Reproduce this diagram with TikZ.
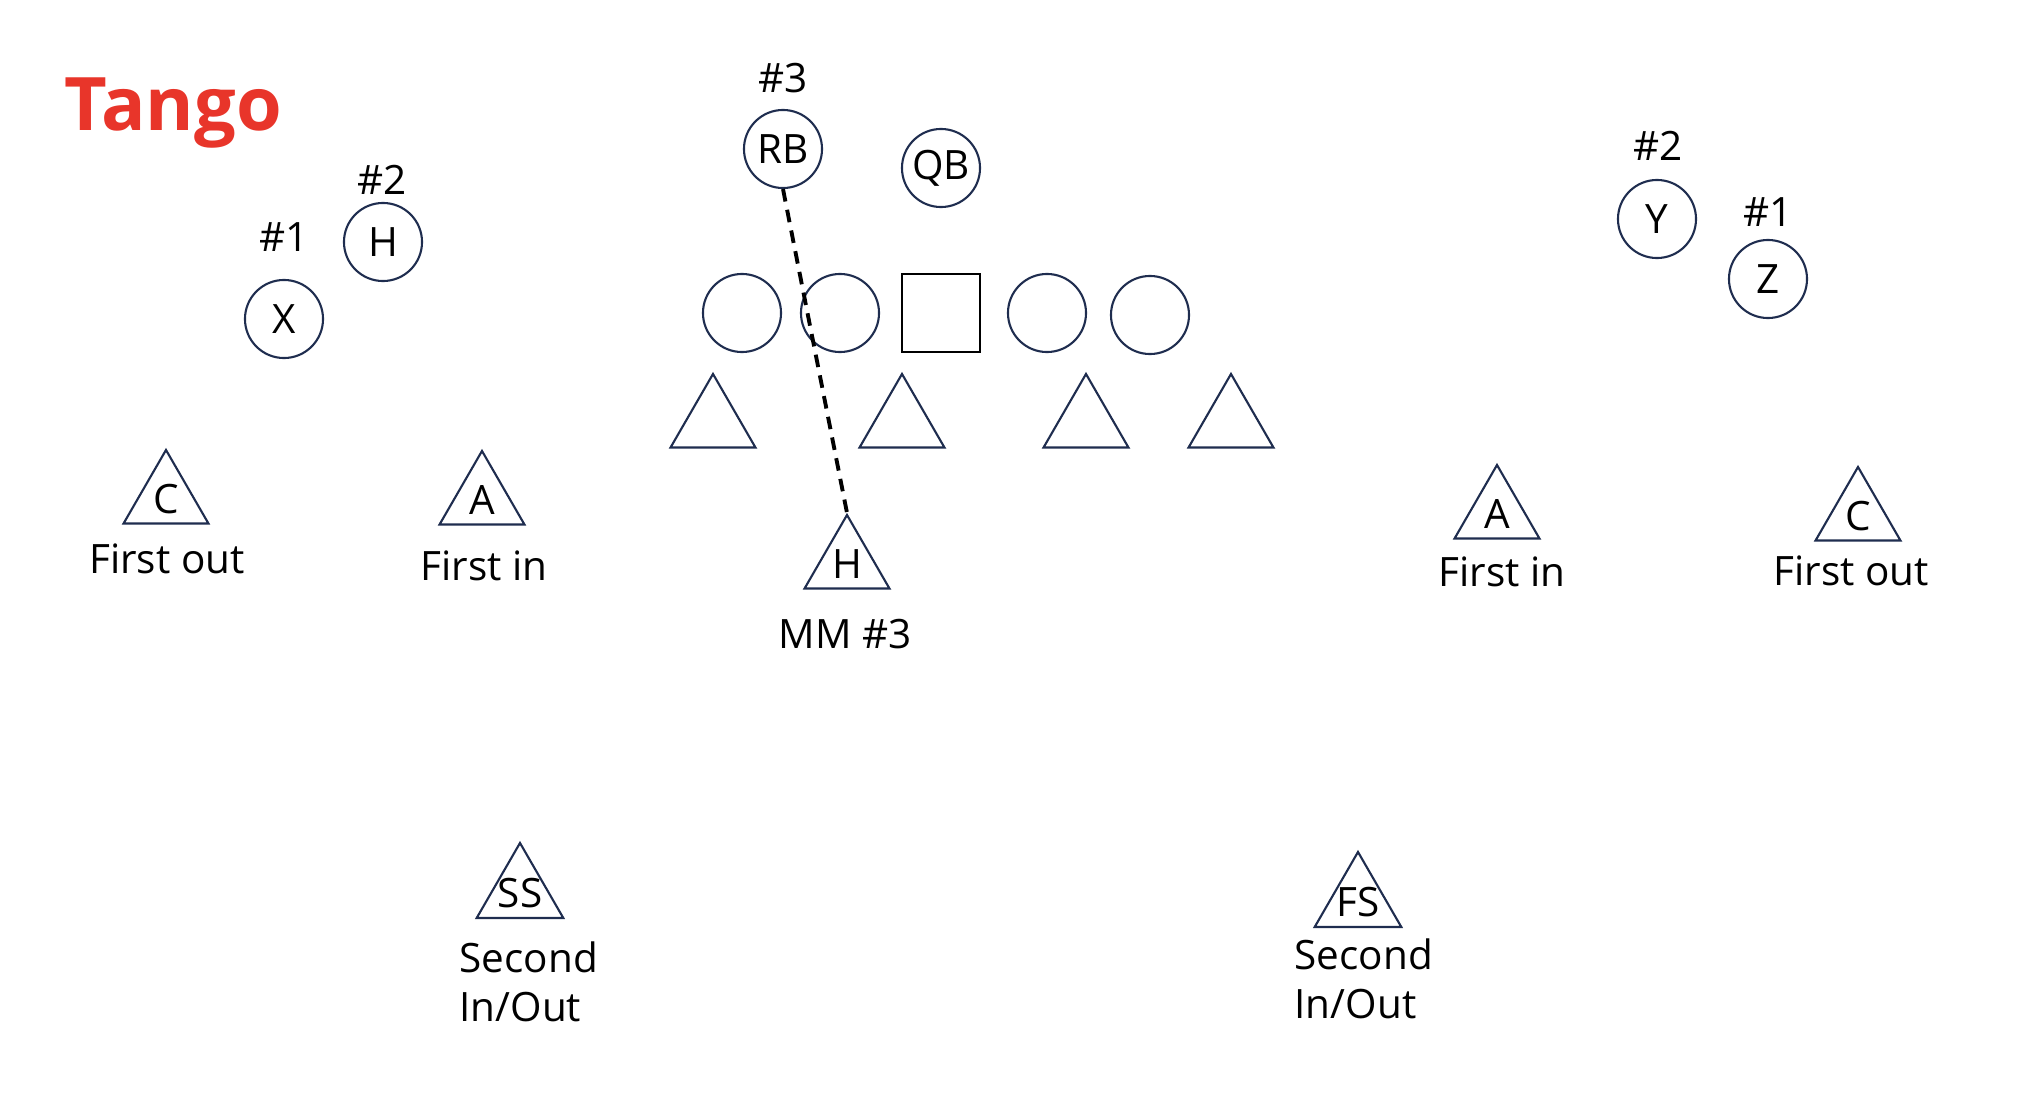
\documentclass[tikz,border=0pt]{standalone}
\usepackage{fontspec}
\setmainfont{Open Sans}
\definecolor{PlayNavy}{HTML}{1F2D4F}
\definecolor{PlayRed}{HTML}{E8352A}
\usetikzlibrary{positioning,shapes.geometric}

\begin{document}
\begin{tikzpicture}[x=0.01cm, y=-0.01cm, font=\fontsize{11.5}{14}\selectfont,
    player/.style={circle, draw=PlayNavy, line width=0.6pt, minimum size=0.78cm, inner sep=0pt},
    snapper/.style={rectangle, draw=black, line width=0.7pt, minimum size=0.78cm, inner sep=0pt},
    defender/.style={regular polygon, regular polygon sides=3, draw=PlayNavy, line width=0.6pt,
      minimum size=0.98cm, inner sep=0pt},
    safety/.style={defender, minimum size=1.0cm, inner sep=-4pt},
    tag/.style={inner sep=0pt}]
  \useasboundingbox (0,0) rectangle (2044,1118);

  \node[anchor=base west, text=PlayRed, font=\fontsize{21}{25}\selectfont\bfseries] (title) at (52,130) {Tango};

  % offense
  \node[player] (x) at (284,319) {X};
  \node[tag] (xnum) at (284,237) {\#1};
  \node[player] (h) at (383,242) {H};
  \node[tag] (hnum) at (382,180) {\#2};
  \node[player] (rb) at (783,149) {RB};
  \node[tag] (rbnum) at (783,78) {\#3};
  \node[player] (qb) at (941,168) {QB};
  \node[player] (lt) at (742,313) {};
  \node[player] (lg) at (840,313) {};
  \node[snapper] (c) at (941,313) {};
  \node[player] (rg) at (1047,313) {};
  \node[player] (rt) at (1150,315) {};
  \node[player] (y) at (1657,219) {Y};
  \node[tag] (ynum) at (1658,146) {\#2};
  \node[player] (z) at (1768,279) {Z};
  \node[tag] (znum) at (1768,212) {\#1};

  % defense
  \foreach \px/\nm in {713/dl1, 902/dl2, 1086/dl3, 1231/dl4}
    \node[defender] (\nm) at (\px,423) {};
  \node[defender] (mm) at (847,564) {H};
  \node[tag] (mmtxt) at (845,634) {MM \#3};
  \node[defender] (lc) at (166,499) {C};
  \node[tag] (lctxt) at (167,559) {First out};
  \node[defender] (la) at (482,500) {A};
  \node[tag] (latxt) at (484,566) {First in};
  \node[defender] (ra) at (1497,514) {A};
  \node[tag] (ratxt) at (1502,572) {First in};
  \node[defender] (rc) at (1858,516) {C};
  \node[tag] (rctxt) at (1851,571) {First out};
  \node[safety] (ss) at (520,893) {SS};
  \node[tag, anchor=west, align=left] (sstxt) at (459,982) {Second\\In/Out};
  \node[safety] (fs) at (1358,902) {FS};
  \node[tag, anchor=west, align=left] (fstxt) at (1294,979) {Second\\In/Out};

  \draw[line width=1.1pt, dash pattern=on 3.6pt off 2.4pt] (rb.south) -- (mm.corner 1);
\end{tikzpicture}
\end{document}
